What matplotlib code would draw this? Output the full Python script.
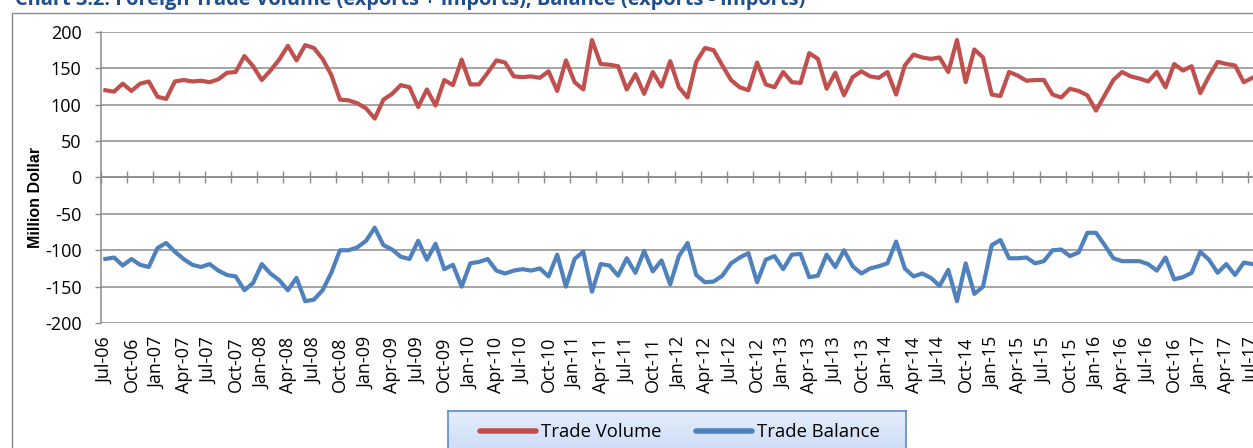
import matplotlib

matplotlib.use("Agg")
import matplotlib.pyplot as plt
import numpy as np
from matplotlib.patches import Rectangle

plt.rcParams["axes.unicode_minus"] = False

# Monthly values, Jul-06 .. Jul-17 (million dollar)
trade_volume = [
    120, 118, 129, 119, 129, 132, 111, 108, 132, 134, 132, 133, 131, 135, 144, 145,
    167, 153, 134, 147, 162, 181, 161, 182, 178, 163, 141, 107, 106, 102, 95, 81,
    107, 115, 127, 124, 97, 121, 99, 134, 127, 162, 128, 128, 144, 161, 158, 139,
    138, 139, 137, 146, 119, 161, 131, 121, 189, 156, 155, 153, 121, 142, 115, 145,
    125, 160, 124, 110, 159, 178, 175, 154, 134, 124, 120, 158, 128, 124, 145, 131,
    130, 171, 163, 122, 144, 113, 138, 146, 139, 137, 145, 114, 154, 169, 165, 163,
    165, 145, 189, 131, 176, 165, 114, 112, 145, 140, 133, 134, 134, 114, 110, 122,
    119, 113, 92, 113, 134, 145, 139, 136, 132, 145, 124, 156, 147, 153, 116, 139,
    159, 156, 154, 131, 137,
]
trade_balance = [
    -112, -110, -121, -112, -120, -123, -97, -90, -102, -112, -120, -123, -119, -128, -134, -136,
    -155, -145, -119, -132, -141, -155, -138, -170, -168, -155, -131, -100, -100, -96, -87, -69,
    -93, -99, -109, -112, -87, -113, -91, -126, -120, -150, -118, -116, -112, -128, -132, -128,
    -126, -128, -125, -136, -106, -150, -112, -102, -157, -119, -121, -135, -111, -131, -101, -129,
    -114, -147, -108, -90, -134, -144, -143, -135, -118, -110, -104, -144, -113, -108, -126, -106,
    -105, -137, -135, -106, -123, -100, -122, -132, -125, -122, -118, -88, -125, -136, -132, -138,
    -149, -127, -170, -118, -160, -150, -93, -86, -111, -111, -110, -118, -115, -100, -99, -108,
    -103, -76, -76, -93, -111, -115, -115, -115, -119, -128, -110, -140, -137, -131, -102, -113,
    -131, -119, -134, -117, -119,
]
tick_labels = [
    "Jul-06", "Oct-06", "Jan-07", "Apr-07", "Jul-07", "Oct-07", "Jan-08", "Apr-08", "Jul-08",
    "Oct-08", "Jan-09", "Apr-09", "Jul-09", "Oct-09", "Jan-10", "Apr-10", "Jul-10", "Oct-10",
    "Jan-11", "Apr-11", "Jul-11", "Oct-11", "Jan-12", "Apr-12", "Jul-12", "Oct-12", "Jan-13",
    "Apr-13", "Jul-13", "Oct-13", "Jan-14", "Apr-14", "Jul-14", "Oct-14", "Jan-15", "Apr-15",
    "Jul-15", "Oct-15", "Jan-16", "Apr-16", "Jul-16", "Oct-16", "Jan-17", "Apr-17", "Jul-17",
]

RED = "#C0504D"
BLUE = "#4F81BD"
GRID = "#8C8C8C"
W, H = 1253, 448

fig = plt.figure(figsize=(W / 100, H / 100), dpi=100)

# outer chart frame (runs off the right and bottom edges)
fig.add_artist(Rectangle((12 / W, -0.2), 1.2, 1.2 - 13 / H, transform=fig.transFigure,
                         fill=False, edgecolor="#8A8A8A", lw=1.0))

fig.text(15 / W, 1 - 5 / H,
         "Chart 3.2: Foreign Trade Volume (exports + imports), Balance (exports - imports)",
         fontfamily="Open Sans", fontweight="bold", fontsize=14.4, color="#1F4E8C",
         ha="left", va="baseline")

ax = fig.add_axes([101 / W, 125 / H, 1 - 101 / W, 291 / H])
x = np.arange(len(trade_volume))
ax.plot(x, trade_volume, color=RED, lw=3.0, label="Trade Volume", solid_joinstyle="round")
ax.plot(x, trade_balance, color=BLUE, lw=3.0, label="Trade Balance", solid_joinstyle="round")

ax.set_yticks(np.arange(-200, 201, 50))
ax.yaxis.grid(True, color=GRID, lw=1.1)
ax.set_axisbelow(True)
ax.tick_params(axis="y", length=4.5, width=1.0, color=GRID, pad=9.5, labelsize=13)
for lab in ax.get_yticklabels():
    lab.set_fontfamily("Open Sans")

for side in ("top", "right"):
    ax.spines[side].set_visible(False)
ax.spines["left"].set_color(GRID)
ax.spines["left"].set_linewidth(1.1)
ax.spines["bottom"].set_position(("data", 0))
ax.spines["bottom"].set_color(GRID)
ax.spines["bottom"].set_linewidth(1.1)

# category boundaries carry the tick marks on the zero line
ax.set_xticks(np.arange(-0.5, len(trade_volume) + 2, 3))
ax.tick_params(axis="x", direction="inout", length=8, width=1.0, color=GRID, labelbottom=False)

sec = ax.secondary_xaxis(0.0)
sec.set_xticks(np.arange(0, len(tick_labels) * 3, 3))
sec.set_xticklabels(tick_labels, rotation=90, fontfamily="Open Sans", fontsize=13, va="top")
sec.tick_params(length=0, pad=10)
sec.spines["bottom"].set_visible(False)

ax.set_xlim(-0.5, (W - 101) / 8.69 - 0.5)
ax.set_ylim(-200, 200)

fig.text(36 / W, 1 - 197 / H, "Million Dollar", rotation=90, fontfamily="Liberation Sans",
         fontweight="bold", fontsize=11.5, ha="center", va="center")

# legend box with a light blue gradient
lax = fig.add_axes([448 / W, -0.1, 458 / W, 37 / H + 0.1], zorder=3)
grad = np.linspace(0, 1, 64).reshape(-1, 1)
lax.imshow(grad, aspect="auto", cmap=matplotlib.colors.LinearSegmentedColormap.from_list(
    "lg", ["#E4EDFC", "#B4CCF1"]), extent=(0, 1, 0, 1))
lax.set_xticks([])
lax.set_yticks([])
for sp in lax.spines.values():
    sp.set_color("#5D89C8")
    sp.set_linewidth(1.2)

handles, labels = ax.get_legend_handles_labels()
leg = fig.legend(handles, labels, loc="center", bbox_to_anchor=(680 / W, 1 - 432 / H), ncol=2,
                 frameon=False, prop={"family": "Open Sans", "size": 13.3},
                 handlelength=3.0, handletextpad=0.27, columnspacing=1.9, borderpad=0)
leg.set_zorder(5)
for line in leg.get_lines():
    line.set_linewidth(4)
    line.set_solid_capstyle("round")

fig.savefig("out.png", dpi=100)
plt.close(fig)
